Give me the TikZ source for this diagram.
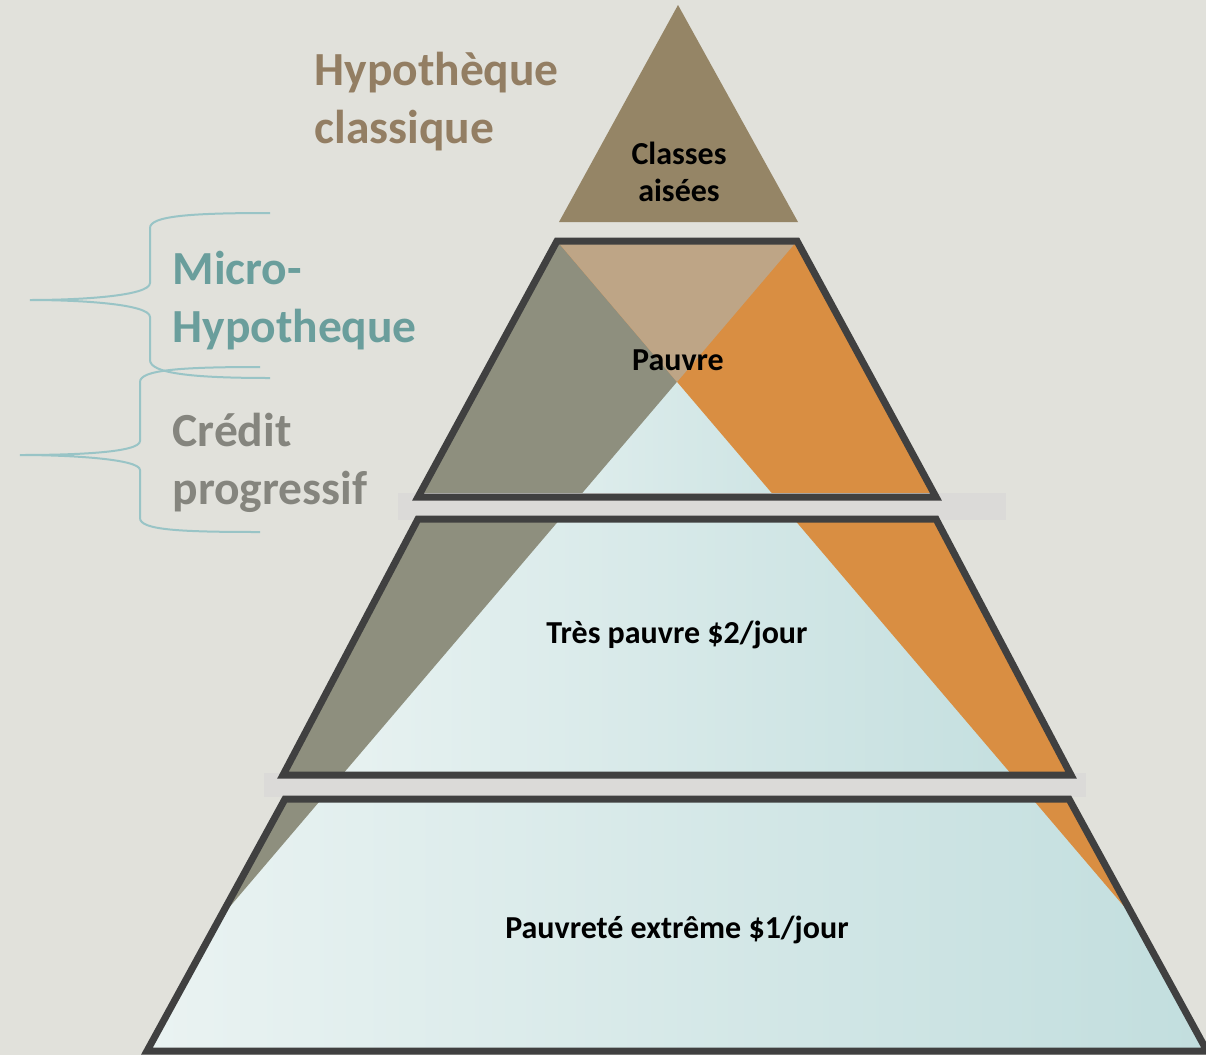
\documentclass[tikz,border=0pt]{standalone}
\usepackage{fontspec}
\setmainfont{Carlito}
\definecolor{bgcol}{HTML}{E1E1DB}
\definecolor{edgecol}{HTML}{404040}
\definecolor{topcol}{HTML}{958566}
\definecolor{tealL}{HTML}{EAF3F2}
\definecolor{tealR}{HTML}{C2DEDE}
\definecolor{greycol}{HTML}{8E8F7E}
\definecolor{orangecol}{HTML}{D98E42}
\definecolor{tancol}{HTML}{BEA586}
\definecolor{barcol}{HTML}{DBDAD8}
\definecolor{hypcol}{HTML}{937E63}
\definecolor{microcol}{HTML}{6A9E9C}
\definecolor{creditcol}{HTML}{85857E}
\definecolor{bracecol}{HTML}{99C4C6}
\begin{document}
\begin{tikzpicture}[x=1pt,y=-1pt,
  level/.style={draw=edgecol,line width=7pt,line join=miter},
  levelfill/.style={left color=tealL,right color=tealR},
  label/.style={font=\fontsize{32}{37}\selectfont\bfseries,align=center,anchor=base},
  title/.style={font=\fontsize{47.5}{58}\selectfont\bfseries,align=left,anchor=base west},
  brace/.style={draw=bracecol,line width=2pt}]
\path[fill=bgcol,use as bounding box] (0,0) rectangle (1206,1055);

% corners of the three levels
\coordinate (a1) at (557,241);  \coordinate (b1) at (797,241);
\coordinate (c1) at (418,497);  \coordinate (d1) at (936,497);
\coordinate (a2) at (418,519);  \coordinate (b2) at (936,519);
\coordinate (c2) at (283,775);  \coordinate (d2) at (1071,775);
\coordinate (a3) at (285,799);  \coordinate (b3) at (1069,799);
\coordinate (c3) at (147,1051); \coordinate (d3) at (1207,1051);
\coordinate (x) at (677,382);

% top
\path[fill=topcol] (678,5) -- (798,222) -- (559,222) -- cycle;

% levels
\path[levelfill] (a1) -- (b1) -- (d1) -- (c1) -- cycle;
\path[levelfill] (a2) -- (b2) -- (d2) -- (c2) -- cycle;
\path[levelfill] (a3) -- (b3) -- (d3) -- (c3) -- cycle;

% bands
\path[fill=greycol] (a1) -- (c1) -- (a2) -- (c2) -- (a3) -- (221,917) -- (b1) -- cycle;
\path[fill=orangecol] (b1) -- (d1) -- (b2) -- (d2) -- (b3) -- (1133,917) -- (a1) -- cycle;
\path[fill=tancol] (a1) -- (b1) -- (x) -- cycle;

% gaps
\path[fill=barcol] (398,493) rectangle (1006,520);
\path[fill=barcol] (264,773) rectangle (1086,797);

\path[level] (a1) -- (b1) -- (d1) -- (c1) -- cycle;
\path[level] (a2) -- (b2) -- (d2) -- (c2) -- cycle;
\path[level] (a3) -- (b3) -- (d3) -- (c3) -- cycle;

% labels
\node[label] (classes) at (679,201) {Classes\\aisées};
\node[label] (pauvre) at (678,370) {Pauvre};
\node[label] (tres) at (677,643) {Très pauvre \$2/jour};
\node[label] (extreme) at (677,938) {Pauvreté extrême \$1/jour};

\node[title,text=hypcol] (hyp) at (311,143) {Hypothèque\\classique};
\node[title,text=microcol] (micro) at (169,342) {Micro-\\Hypotheque};
\node[title,text=creditcol] (credit) at (169,504) {Crédit\\progressif};

% braces
\path[brace] (270,213) .. controls (190,213) and (150,216) .. (150,228) -- (150,283)
  .. controls (150,296) and (80,300) .. (30,300)
  .. controls (80,300) and (150,304) .. (150,317) -- (150,360)
  .. controls (150,373) and (190,378) .. (270,378);
\path[brace] (260,367) .. controls (180,367) and (140,370) .. (140,382) -- (140,441)
  .. controls (140,453) and (70,455) .. (20,455)
  .. controls (70,455) and (140,459) .. (140,470) -- (140,518)
  .. controls (140,530) and (180,532) .. (260,532);
\end{tikzpicture}
\end{document}
